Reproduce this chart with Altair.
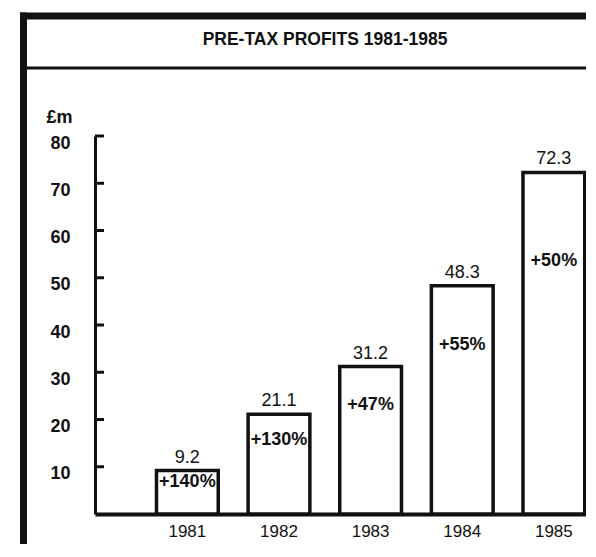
import altair as alt
import pandas as pd

YEARS = ["1981", "1982", "1983", "1984", "1985"]
PROFITS = [9.2, 21.1, 31.2, 48.3, 72.3]
GROWTH = ["+140%", "+130%", "+47%", "+55%", "+50%"]
Y_TICKS = [10, 20, 30, 40, 50, 60, 70, 80]
TITLE = "PRE-TAX PROFITS 1981-1985"
UNIT = "£m"

df = pd.DataFrame({"year": YEARS, "profit": PROFITS, "growth": GROWTH})
ticks_df = pd.DataFrame({"v": Y_TICKS})
one = pd.DataFrame({"t": [TITLE]})

FONT = "Liberation Sans"
INK = "#111111"
W, H = 491, 378

xscale = alt.Scale(domain=YEARS, paddingInner=0.326, paddingOuter=0.3424, align=0.98)
yscale = alt.Scale(domain=[0, 80], nice=False, zero=True)

xaxis = alt.Axis(title=None, labelAngle=0, ticks=False, domainWidth=4, domainColor=INK,
                 labelFont=FONT, labelFontSize=17, labelColor=INK, labelPadding=9)
yaxis = alt.Axis(values=Y_TICKS, title=UNIT, titleAngle=0, titleX=-49, titleY=-19,
                 titleAlign="left", titleBaseline="middle", titleFont=FONT, titleFontSize=18,
                 titleFontWeight="bold", titleColor=INK, ticks=False, grid=False,
                 domainWidth=3, domainColor=INK, labelFont=FONT, labelFontSize=18,
                 labelFontWeight="bold", labelColor=INK, labelPadding=25, labelOffset=7)

X = alt.X("year:N", scale=xscale, axis=xaxis)

base = alt.Chart(df)

bars = base.mark_bar(fill="white", stroke=INK, strokeWidth=3.5).encode(
    x=X, y=alt.Y("profit:Q", scale=yscale, axis=yaxis)
)

values = base.mark_text(font=FONT, fontSize=18, color=INK, baseline="middle", dy=-13).encode(
    x=X, y=alt.Y("profit:Q", scale=yscale, axis=yaxis), text=alt.Text("profit:Q", format=".1f")
)

pct = base.transform_calculate(ly="datum.profit * 0.74").mark_text(
    font=FONT, fontSize=18, fontWeight="bold", color=INK, baseline="middle"
).encode(
    x=X, y=alt.Y("ly:Q", scale=yscale, axis=yaxis), text="growth:N"
)

ticks = alt.Chart(ticks_df).mark_rule(color=INK, strokeWidth=3).encode(
    y=alt.Y("v:Q", scale=yscale, axis=yaxis), x=alt.value(0), x2=alt.value(9)
)

frame_left = alt.Chart(one).mark_rule(color=INK, strokeWidth=7).encode(
    x=alt.value(-71.5), y=alt.value(-123.4), y2=alt.value(410)
)
frame_top = alt.Chart(one).mark_rule(color=INK, strokeWidth=7).encode(
    x=alt.value(-75), x2=alt.value(491), y=alt.value(-120)
)
frame_sep = alt.Chart(one).mark_rule(color=INK, strokeWidth=3).encode(
    x=alt.value(-75), x2=alt.value(491), y=alt.value(-68)
)
title = alt.Chart(one).mark_text(font=FONT, fontSize=17.5, fontWeight="bold", color=INK,
                                 baseline="middle", align="center").encode(
    x=alt.value(230), y=alt.value(-96.4), text="t:N"
)

chart = alt.layer(bars, values, pct, ticks, frame_left, frame_top, frame_sep, title).properties(
    width=W, height=H,
    autosize=alt.AutoSizeParams(type="none"),
    padding={"left": 87, "top": 128, "right": 0, "bottom": 30},
    background="white",
).configure_view(stroke=None)

chart.save("out.html", embed_options={"renderer": "svg", "actions": False})
